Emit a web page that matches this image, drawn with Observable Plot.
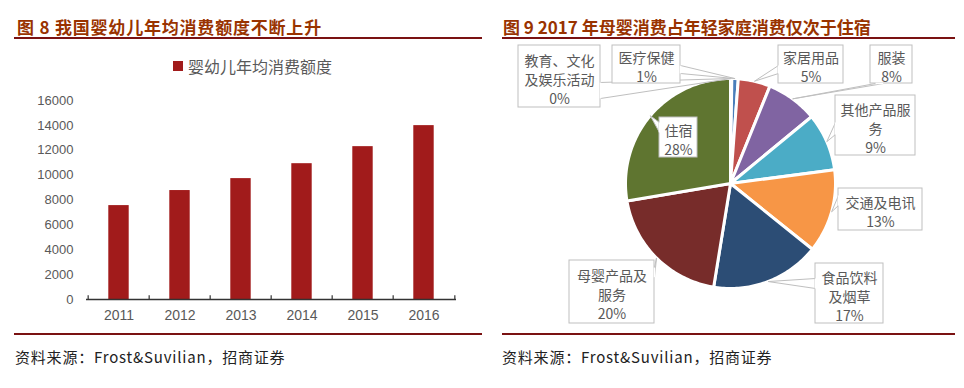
<!DOCTYPE html>
<html><head><meta charset="utf-8">
<script src="https://cdn.jsdelivr.net/npm/d3@7"></script>
<script src="https://cdn.jsdelivr.net/npm/@observablehq/plot@0.6"></script>
<style>
html,body{margin:0;padding:0;background:#fff;}
body{width:964px;height:388px;position:relative;overflow:hidden;font-family:"Liberation Sans",Arial,sans-serif;}
.abs{position:absolute;}
.title{font-family:"Noto Sans CJK SC";font-weight:700;font-size:17px;line-height:20px;color:#993300;white-space:nowrap;}
.hr{position:absolute;height:2px;background:#7a1212;}
.foot{font-family:"Noto Sans CJK SC";font-size:15px;line-height:18px;letter-spacing:0.8px;color:#222;white-space:nowrap;}
.legend{font-family:"Noto Sans CJK SC";font-size:16px;line-height:16px;color:#595959;white-space:nowrap;}
</style></head><body>
<script>
// ---------- data ----------
const years = ["2011", "2012", "2013", "2014", "2015", "2016"];
const spending = [7550, 8760, 9720, 10920, 12290, 13980];
const yTicks = [0, 2000, 4000, 6000, 8000, 10000, 12000, 14000, 16000];
const seriesName = "婴幼儿年均消费额度";

const pieCategories = ["教育、文化及娱乐活动", "医疗保健", "家居用品", "服装", "其他产品服务", "交通及电讯", "食品饮料及烟草", "母婴产品及服务", "住宿"];
const pieShares = [0.2, 1, 5, 8, 9, 13, 17, 20, 28];
const pieColors = ["#9BBB59", "#4A7EBB", "#C0504D", "#8064A2", "#4BACC6", "#F79646", "#2C4D75", "#772C2A", "#5F7530"];

const title1 = "图 8 我国婴幼儿年均消费额度不断上升";
const title2 = "图 9 2017 年母婴消费占年轻家庭消费仅次于住宿";
const source = "资料来源：Frost&Suvilian，招商证券";

// ---------- layout (pixels) ----------
const labelWrap = [5, 4, 4, 2, 5, 5, 4, 5, 2];
const PIE = {cx: 730, cy: 183, r: 105};
const callouts = [
  {box: [518, 45, 600, 107], side: "right", at: 90, half: 8},
  {box: [612, 45, 680, 83], side: "right", at: 69, half: 4},
  {box: [778, 45, 843, 83], side: "left", at: 69, half: 4},
  {box: [870, 45, 912, 83], side: "bottom", at: 879, half: 4},
  {box: [835, 95, 915, 155], side: "left", at: 128, half: 6},
  {box: [838, 188, 922, 230], side: "left", at: 200, half: 5},
  {box: [815, 263, 883, 323], side: "left", at: 283, half: 5},
  {box: [569, 260, 654, 323], side: "right", at: 272, half: 5},
  {box: [659, 117, 697, 157], side: "left", at: 127, half: 5}
];

function addDiv(cls, text, left, top, extra) {
  const d = document.createElement("div");
  d.className = "abs " + cls;
  d.textContent = text;
  d.style.left = left + "px"; d.style.top = top + "px";
  if (extra) Object.assign(d.style, extra);
  document.body.appendChild(d);
  return d;
}
function addRule(left, top, width) {
  const d = document.createElement("div");
  d.className = "hr";
  d.style.left = left + "px"; d.style.top = top + "px"; d.style.width = width + "px";
  document.body.appendChild(d);
}

// titles, rules, footers
addDiv("title", title1, 17, 17, {letterSpacing: "0.8px"});
addDiv("title", title2, 503, 17);
addRule(14, 37, 468);
addRule(502, 37, 453);
addRule(14, 333, 468);
addRule(502, 333, 453);
addDiv("foot", source, 15, 348);
addDiv("foot", source, 502, 348);

// legend
addDiv("", "", 173, 61, {width: "10px", height: "10px", background: "#A11B1B"});
addDiv("legend", seriesName, 188, 58);

// ---------- left bar chart ----------
const barData = years.map((year, i) => ({year, value: spending[i]}));
const step = (480 - 86 - 24) / years.length;
const left = Plot.plot({
  width: 480, height: 290,
  marginLeft: 86, marginRight: 24, marginTop: 60, marginBottom: 31,
  style: {background: "transparent", color: "#595959", fontFamily: "'Liberation Sans', Arial, sans-serif"},
  x: {domain: years, padding: 0},
  y: {domain: [0, 16000]},
  marks: [
    Plot.barY(barData, {x: "year", y: "value", fill: "#A11B1B", insetLeft: 20.3, insetRight: 20.3}),
    Plot.ruleY([0], {stroke: "#333", strokeWidth: 1.3}),
    Plot.ruleX(years, {x: d => d, dx: -step / 2, y1: 0, y2: 300, stroke: "#333", strokeWidth: 1.2}),
    Plot.ruleX(years.slice(-1), {x: d => d, dx: step / 2, y1: 0, y2: 300, stroke: "#333", strokeWidth: 1.2}),
    Plot.axisY({ticks: yTicks, tickSize: 0, tickPadding: 13, fontSize: 13, fill: "#595959", label: null, tickFormat: d => String(d)}),
    Plot.axisX({tickSize: 0, tickPadding: 11, fontSize: 14, fill: "#595959", label: null})
  ]
});
Object.assign(left.style, {position: "absolute", left: "0px", top: "40px"});
document.body.appendChild(left);

// ---------- right pie chart ----------
const ux = px => (px - PIE.cx) / PIE.r;
const uy = py => (PIE.cy - py) / PIE.r;
const pieData = pieCategories.map((name, i) => ({name, share: pieShares[i]}));
const arcs = d3.pie().sort(null).value(d => d.share).startAngle(0).endAngle(2 * Math.PI)(pieData);

const slicePts = arcs.flatMap(a => {
  const n = Math.max(2, Math.ceil((a.endAngle - a.startAngle) / 0.02));
  const pts = [{name: a.data.name, x: 0, y: 0}];
  for (let i = 0; i <= n; i++) {
    const t = a.startAngle + (a.endAngle - a.startAngle) * i / n;
    pts.push({name: a.data.name, x: Math.sin(t), y: Math.cos(t)});
  }
  pts.push({name: a.data.name, x: 0, y: 0});
  return pts;
});

const boxes = [], tris = [], bases = [], texts = [];
arcs.forEach((a, i) => {
  const c = callouts[i];
  const [x1, y1, x2, y2] = c.box;
  boxes.push({x1: ux(x1), x2: ux(x2), y1: uy(y1), y2: uy(y2)});
  const mid = (a.startAngle + a.endAngle) / 2;
  const tip = {x: Math.sin(mid), y: Math.cos(mid)};
  let b1, b2;
  if (c.side === "right") { b1 = {x: ux(x2), y: uy(c.at - c.half)}; b2 = {x: ux(x2), y: uy(c.at + c.half)}; }
  else if (c.side === "left") { b1 = {x: ux(x1), y: uy(c.at - c.half)}; b2 = {x: ux(x1), y: uy(c.at + c.half)}; }
  else { b1 = {x: ux(c.at - c.half), y: uy(y2)}; b2 = {x: ux(c.at + c.half), y: uy(y2)}; }
  [b1, tip, b2, b1].forEach(p => tris.push({id: i, ...p}));
  bases.push({x1: b1.x, y1: b1.y, x2: b2.x, y2: b2.y});
  const name = a.data.name, w = labelWrap[i], lines = [];
  for (let k = 0; k < name.length; k += w) lines.push(name.slice(k, k + w));
  lines.push(Math.round(a.data.share) + "%");
  texts.push({x: ux((x1 + x2) / 2), y: uy((y1 + y2) / 2 + 2), text: lines.join("\n")});
});

const right = Plot.plot({
  width: 484, height: 296,
  margin: 0,
  style: {background: "transparent"},
  x: {domain: [-1, 1], range: [PIE.cx - PIE.r - 480, PIE.cx + PIE.r - 480], axis: null},
  y: {domain: [-1, 1], range: [PIE.cy + PIE.r - 40, PIE.cy - PIE.r - 40], axis: null},
  color: {type: "ordinal", domain: pieCategories, range: pieColors},
  marks: [
    Plot.line(slicePts, {x: "x", y: "y", z: "name", fill: "name", stroke: "white", strokeWidth: 3, strokeLinejoin: "round"}),
    Plot.line(tris, {x: "x", y: "y", z: "id", fill: "white", stroke: "#BFBFBF", strokeWidth: 1}),
    Plot.rect(boxes, {x1: "x1", x2: "x2", y1: "y1", y2: "y2", fill: "white", stroke: "#BFBFBF", strokeWidth: 1}),
    Plot.link(bases, {x1: "x1", y1: "y1", x2: "x2", y2: "y2", stroke: "white", strokeWidth: 1.5}),
    Plot.text(texts, {x: "x", y: "y", text: "text", fontSize: 14, lineHeight: 1.36, fill: "#595959", fontFamily: "'Noto Sans CJK SC', sans-serif"})
  ]
});
Object.assign(right.style, {position: "absolute", left: "480px", top: "40px"});
document.body.appendChild(right);
</script>
</body></html>
